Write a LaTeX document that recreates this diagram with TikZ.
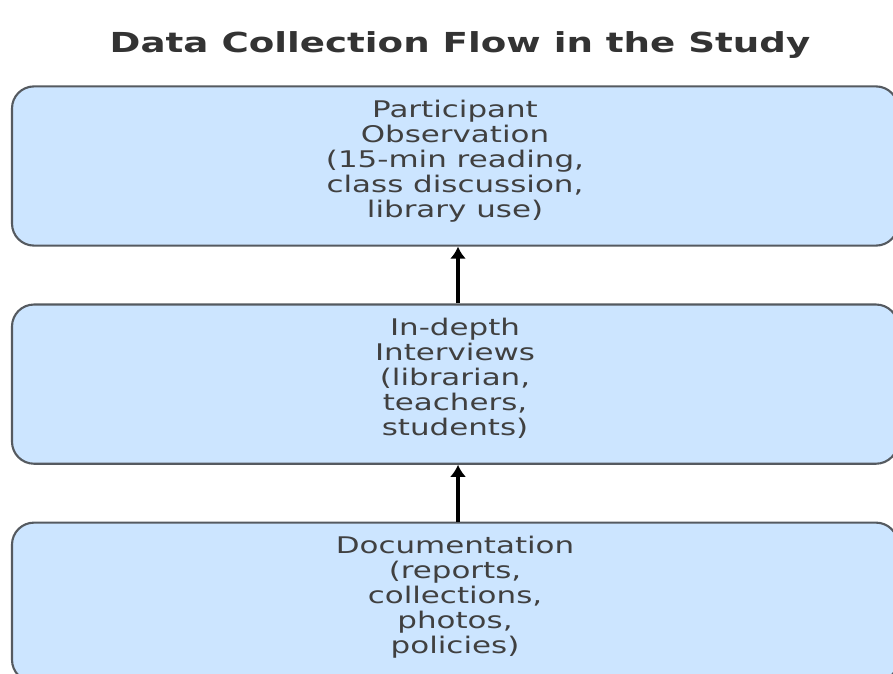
\documentclass[tikz,border=0pt]{standalone}
\usepackage{fontspec}
\setmainfont[FakeStretch=1.35]{DejaVu Sans}
\usetikzlibrary{positioning,arrows.meta}
\definecolor{boxfill}{HTML}{CCE5FF}
\definecolor{boxline}{HTML}{555A60}
\definecolor{txtgray}{HTML}{404040}
\tikzset{
    every node/.style={
        font=\fontsize{16.3}{17.8}\selectfont,
        text=txtgray
    },
    title/.style={
        font=\fontsize{19.6}{24}\selectfont\bfseries,
        text=txtgray!80!black
    },
    stage/.style={
        shape=rectangle,
        draw=boxline,
        fill=boxfill,
        line width=1.5pt,
        rounded corners=0.55cm,
        minimum width=22.15cm,
        minimum height=3.98cm,
        text depth=0.35cm,
        align=center
    }
}
\tikzstyle{flow} = [-{Latex[length=3mm,width=4mm]}, line width=2.2pt, black]

\begin{document}
\begin{tikzpicture}
		[node distance=1.42cm]
		\useasboundingbox (0,0) rectangle (22.325,-16.825);
		\node (ttl) at (11.5,-1.12) [title] {Data Collection Flow in the Study};
		\node (obs) at (11.375,-4.15) [stage] {Participant\\Observation\\(15-min reading,\\class discussion,\\library use)};
		\node (intv) [stage, below=of obs] {In-depth\\Interviews\\(librarian,\\teachers,\\students)};
		\node (docs) [stage, below=of intv] {Documentation\\(reports,\\collections,\\photos,\\policies)};
		% Connectors
		\draw [flow] (docs.north -| 11.45,0) -- (intv.south -| 11.45,0);
		\draw [flow] (intv.north -| 11.45,0) -- (obs.south -| 11.45,0);
	\end{tikzpicture}
\end{document}
